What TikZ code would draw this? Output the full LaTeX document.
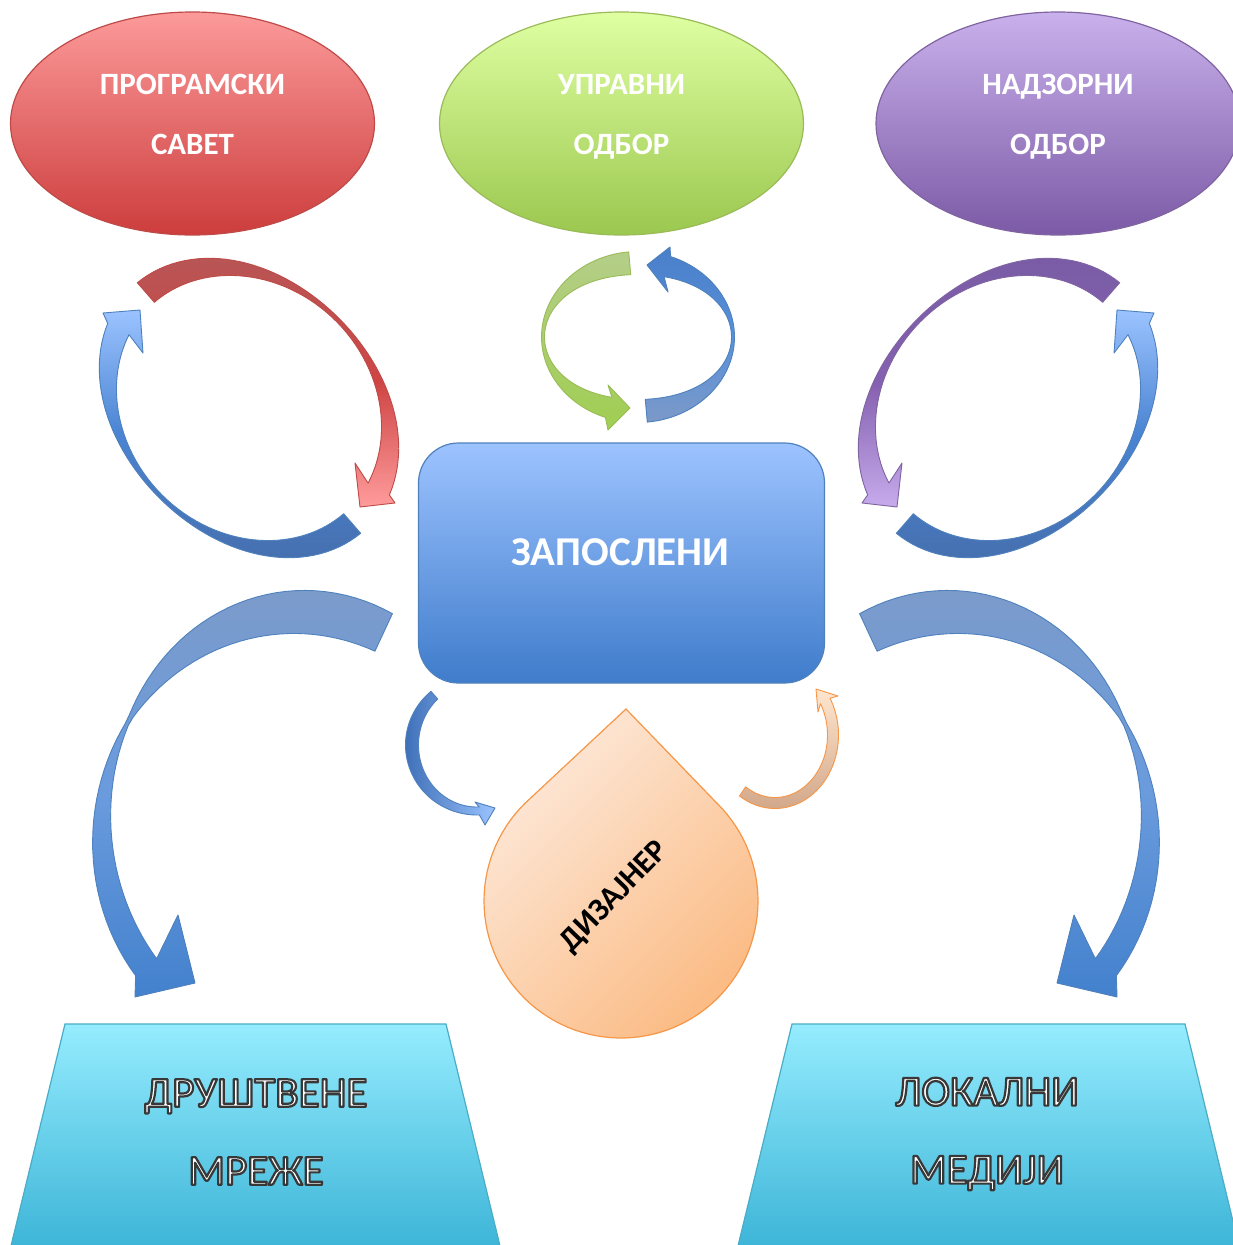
\documentclass[tikz,border=0pt]{standalone}
\usepackage{fontspec}
\setmainfont{Carlito}
\usetikzlibrary{shapes.geometric}

\definecolor{redT}{HTML}{B85555}
\definecolor{redM}{HTML}{CF4545}
\definecolor{redH}{HTML}{FF9C9C}
\definecolor{bluL}{HTML}{9BC3FF}
\definecolor{bluM}{HTML}{4A84D2}
\definecolor{bluD}{HTML}{4670B0}
\definecolor{purT}{HTML}{7A5CA6}
\definecolor{purM}{HTML}{8560B0}
\definecolor{purH}{HTML}{C6ABEC}
\definecolor{grnT}{HTML}{B4CE88}
\definecolor{grnH}{HTML}{A0CE52}
\definecolor{mbT}{HTML}{4A7EC8}
\definecolor{mbM}{HTML}{5890DA}
\definecolor{mbB}{HTML}{7B99C8}
\definecolor{bigT}{HTML}{7B9BCB}
\definecolor{bigM}{HTML}{6A9BDD}
\definecolor{bigB}{HTML}{4381CD}
\definecolor{orT}{HTML}{FFE6CF}
\definecolor{orB}{HTML}{D2A88A}
\definecolor{smD}{HTML}{3F70B8}
\definecolor{redBd}{HTML}{BE4B48}
\definecolor{bluBd}{HTML}{4F81BD}
\definecolor{grnBd}{HTML}{9BBB59}
\definecolor{purBd}{HTML}{8064A2}
\definecolor{orBd}{HTML}{F79646}
\definecolor{cyBd}{HTML}{4BACC6}
\definecolor{cyT}{HTML}{95ECFE}
\definecolor{cyB}{HTML}{3CB4D7}
\definecolor{ovRT}{HTML}{FC9A9A}
\definecolor{ovRB}{HTML}{CD3D3D}
\definecolor{ovGT}{HTML}{DFFFA2}
\definecolor{ovGB}{HTML}{9BC84F}
\definecolor{ovPT}{HTML}{C9B1EC}
\definecolor{ovPB}{HTML}{7C5AA6}
\definecolor{boxT}{HTML}{9DC3FF}
\definecolor{boxB}{HTML}{3F7CCB}
\definecolor{drT}{HTML}{FDE9DA}
\definecolor{drB}{HTML}{FBBC86}

% outlined text: fill (current colour) + dark stroke via PDF text render mode
\newcommand\outl[1]{\special{pdf:literal direct 0.22 0.22 0.22 RG 2.2 w 1 j 2 Tr}#1\special{pdf:literal direct 0 Tr}}

\pgfkeys{/ca/.is family, /ca/.cd,
  cx/.store in=\caCX, cy/.store in=\caCY, a/.store in=\caA, b/.store in=\caB,
  rot/.store in=\caR, s/.store in=\caS, u0/.store in=\caUa, u1/.store in=\caUb,
  w/.store in=\caW}

\newcommand\CurvArrow[5]{%
  \pgfkeys{/ca/.cd,rot=0,s=1,#1}%
  \path[#2] plot[domain=\caUa:\caUb,variable=\uu,samples=60] ({cax(\uu,caw(\uu)/2)},{cay(\uu,caw(\uu)/2)})
    -- (#3) -- (#4) -- (#5)
    -- plot[domain=\caUb:\caUa,variable=\uu,samples=60] ({cax(\uu,-caw(\uu)/2)},{cay(\uu,-caw(\uu)/2)}) -- cycle;}

\tikzset{
  arr/.style={line width=0.9pt, line join=round},
  redarr/.style={arr, draw=redBd, top color=redT, bottom color=redH, middle color=redM},
  bluearr/.style={arr, draw=bluBd, top color=bluL, bottom color=bluD, middle color=bluM},
  purarr/.style={arr, draw=purBd, top color=purT, bottom color=purH, middle color=purM},
  grnarr/.style={arr, draw=grnBd, top color=grnT, bottom color=grnH},
  mbarr/.style={arr, draw=bluBd, top color=mbT, bottom color=mbB, middle color=mbM},
  bigarr/.style={arr, draw=bluBd, top color=bigT, bottom color=bigB, middle color=bigM},
  smarr/.style={arr, draw=bluBd, left color=smD, right color=bluL},
  orarr/.style={arr, draw=orBd, top color=orT, bottom color=orB},
  oval/.style={ellipse, minimum width=364pt, minimum height=223pt, inner sep=0pt, line width=1.2pt},
  ovaltext/.style={text=white, font=\fontsize{31}{60}\selectfont\bfseries, align=center},
  trap/.style={draw=cyBd, line width=1.2pt, top color=cyT, bottom color=cyB},
  traptext/.style={text=white, font=\fontsize{43}{78}\selectfont, align=center}
}

\begin{document}
\begin{tikzpicture}[x=1pt, y=-1pt,
  declare function={
    cax(\uv,\dv)=\caCX+(\caS)*((\caA+(\dv))*cos(\uv)*cos(\caR)-(\caB+(\dv))*sin(\uv)*sin(\caR));
    cay(\uv,\dv)=\caCY+(\caA+(\dv))*cos(\uv)*sin(\caR)+(\caB+(\dv))*sin(\uv)*cos(\caR);
    caw(\uv)=\caW;
  }]
\useasboundingbox (0,0) rectangle (1233,1245);
\fill[white] (0,0) rectangle (1233,1245);
\clip (0,0) rectangle (1233,1245);

% top ovals
\node[oval, draw=redBd, top color=ovRT, bottom color=ovRB] (prog) at (192.5,123.5) {};
\node[oval, draw=grnBd, top color=ovGT, bottom color=ovGB] (upr) at (621.5,123.5) {};
\node[oval, draw=purBd, top color=ovPT, bottom color=ovPB] (nadz) at (1058,123.5) {};
\node[ovaltext] (progt) at (192.5,114) {ПРОГРАМСКИ\\САВЕТ};
\node[ovaltext] (uprt) at (621.5,117) {УПРАВНИ\\ОДБОР};
\node[ovaltext] (nadzt) at (1058,117) {НАДЗОРНИ\\ОДБОР};

% central box
\node[draw=bluBd, line width=1.2pt, rounded corners=40pt, minimum width=406pt, minimum height=240pt,
      top color=boxT, bottom color=boxB] (zap) at (621.5,563) {};
\node[text=white, font=\fontsize{41}{48}\selectfont\bfseries] (zapt) at (620.5,552) {ЗАПОСЛЕНИ};

% droplet
\path[draw=orBd, line width=1.2pt, top color=drT, bottom color=drB, shading angle=45]
  (626,709) -- plot[domain=225.5:-45.5, samples=90, variable=\t] ({621+137*cos(\t)},{901+137*sin(\t)}) -- cycle;
\node[rotate=46, font=\fontsize{32}{38}\selectfont\bfseries] (diz) at (615,897) {ДИЗАЈНЕР};

% trapezoids
\path[trap] (65,1024) -- (446,1024) -- (501,1250) -- (10,1250) -- cycle;
\path[trap] (792,1024) -- (1185,1024) -- (1240,1250) -- (737,1250) -- cycle;
\node[traptext] (drus) at (256,1132) {\outl{ДРУШТВЕНЕ}\\\outl{МРЕЖЕ}};
\node[traptext] (lok) at (987,1134) {\outl{ЛОКАЛНИ}\\\outl{МЕДИЈИ}};

% left pair of arrows
\CurvArrow{cx=249,cy=408,a=155,b=125,rot=45,u0=184,u1=344,w={4+22*cos(\uu)*cos(\uu)}}{redarr}{395,503}{360,507}{355,463}
\CurvArrow{cx=249,cy=408,a=155,b=125,rot=45,u0=4,u1=163,w={4+22*cos(\uu)*cos(\uu)}}{bluearr}{103,313}{140,310}{143,353}
% right pair
\CurvArrow{cx=1008,cy=408,a=155,b=125,rot=45,s=-1,u0=184,u1=344,w={4+22*cos(\uu)*cos(\uu)}}{purarr}{862,503}{897,507}{902,463}
\CurvArrow{cx=1008,cy=408,a=155,b=125,rot=45,s=-1,u0=4,u1=163,w={4+22*cos(\uu)*cos(\uu)}}{bluearr}{1154,313}{1117,310}{1114,353}
% middle pair
\CurvArrow{cx=638,cy=337,a=95,b=74,u0=265,u1=108,w={3+20*sin(\uu)*sin(\uu)}}{grnarr}{608,430}{630,408}{608,385}
\CurvArrow{cx=638,cy=337,a=95,b=74,u0=85,u1=-72,w={3+20*sin(\uu)*sin(\uu)}}{mbarr}{670,247}{647,265}{668,292}
% big arrows
\CurvArrow{cx=300,cy=830,a=198,b=218,u0=295,u1=141,w={3+abs(sin(1.3*(\uu-210)))*ifthenelse(\uu>210,41,24)}}{bigarr}{135,997}{195,983}{178,915}
\CurvArrow{cx=952,cy=830,a=198,b=218,s=-1,u0=295,u1=141,w={3+abs(sin(1.3*(\uu-210)))*ifthenelse(\uu>210,41,24)}}{bigarr}{1117,997}{1057,983}{1074,915}
% small arrows around the designer
\CurvArrow{cx=477,cy=745,a=65,b=66,u0=229,u1=88,w={8+5*cos(\uu)*cos(\uu)}}{smarr}{485,825}{495,808}{475,802}
\CurvArrow{cx=775,cy=735,a=58,b=68,u0=124,u1=-30,w={11}}{orarr}{838,696}{816,689}{818,712}
\end{tikzpicture}
\end{document}
